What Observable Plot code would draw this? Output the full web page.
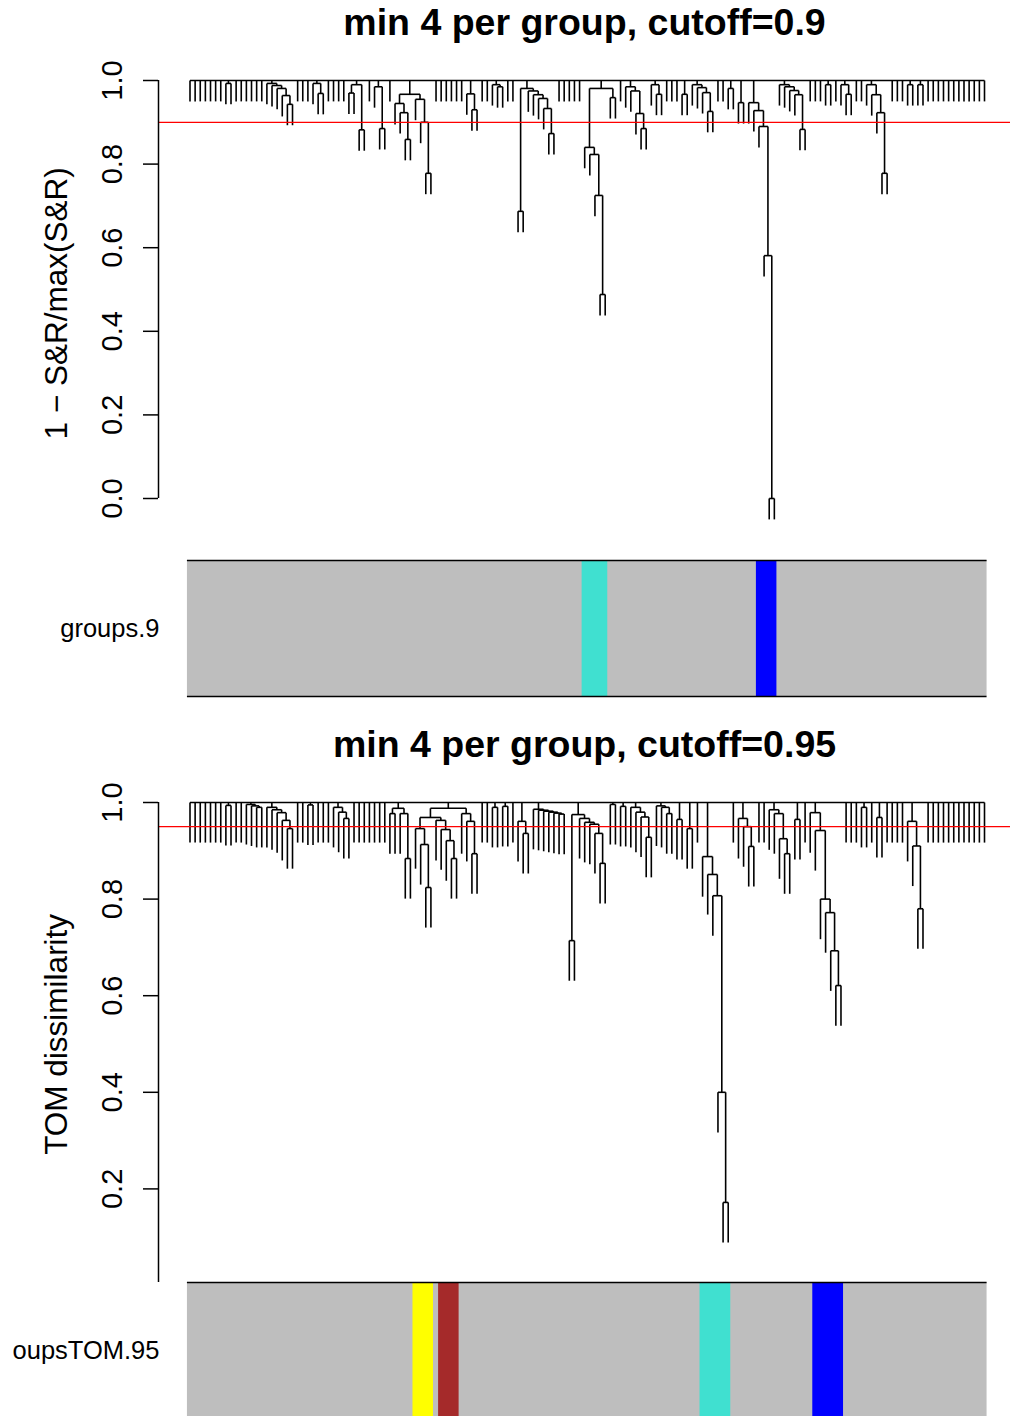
<!DOCTYPE html>
<html><head><meta charset="utf-8">
<script src="https://cdn.jsdelivr.net/npm/d3@7"></script>
<script src="https://cdn.jsdelivr.net/npm/@observablehq/plot@0.6"></script>
<style>
html,body{margin:0;padding:0;background:#fff;}
#page{position:relative;width:1010px;height:1416px;overflow:hidden;background:#fff;}
#page svg{position:absolute;}
</style></head><body><div id="page"></div>
<script>
// ---------------- data ----------------
const titles = ["min 4 per group, cutoff=0.9", "min 4 per group, cutoff=0.95"];
const yLabels = ["1 \u2212 S&R/max(S&R)", "TOM dissimilarity"];
const cutoffs = [0.9, 0.95];
const topTicks = [0, 0.2, 0.4, 0.6, 0.8, 1.0];
const bottomTicks = [0.2, 0.4, 0.6, 0.8, 1.0];
const barLabels = ["groups.9", "groupsTOM.95"];
const greyColor = "#BEBEBE";
// colour bands: [first leaf, last leaf, colour]
const topGroups = [[78, 82, "turquoise"], [112, 115, "blue"]];
const bottomGroups = [[45, 48, "yellow"], [50, 53, "brown"], [101, 106, "turquoise"], [123, 128, "blue"]];
// dendrograms: "o" = leaf, "( ... )hhh" = merge at height hhh/1000
const topTree = [
 "o o o o o o o (oo)993 o o o o o o",
 "(o (o (o (o (oo)943)964)981)988)993",
 "o o o (o (oo)969)993",
 "o o",
 "o o ((oo)970 (oo)882)990 o (o (oo)885)985",
 "o",
 "((o (o (oo)859)923)945 (o (o (oo)778)900)955)967",
 "o o o o o o",
 "(o (oo)930)968",
 "o o (o (oo)985)990 o o",
 "((oo)687 (o (o (o (o (oo)873)933)957)966)975)981",
 "o o o o o",
 "((o (o (o (oo)488)725)823)840 (oo)959)981",
 "o",
 "(o (o (o (oo)885)921)975)985",
 "(o (oo)967)990",
 "o o o",
 "(oo)967",
 "(o (o (o (oo)926)971)983)990",
 "o o",
 "(oo)981",
 "(oo)947",
 "(o (o (o (o (oo)000)581)890)928)947",
 "(o (o (o (o (oo)883)966)976)985)990",
 "o o o",
 "(oo)990",
 "o",
 "(o (oo)967)990",
 "o o",
 "(o (o (o (oo)778)923)966)990",
 "o o o",
 "(oo)990",
 "(oo)990",
 "o o o o o o o o o o o o"
];
const bottomTree = [
 "o o o o o o o (oo)994",
 "o o (o (o (oo)990)993)996",
 "(o (o (o (o (oo)946)963)979)985)990",
 "o o (oo)995 o o o",
 "(o (o (oo)967)980)990",
 "o o o o o o o",
 "((oo)977 (o (oo)884)977)988",
 "(((o (o (oo)824)913)946 (o (o (o (oo)884)921)944)963)969 (o (o (oo)894)961)977)988",
 "o o (oo)990 (oo)992 o",
 "(o (oo)936)961",
 "(o (o (o (o (o (oo)976)978)980)982)984)986",
 "((oo)714 (o (o (o (o (oo)874)936)955)959)967)975",
 "(oo)996 (oo)992",
 "(o (o (o (oo)928)970)980)990",
 "(o (o (oo)977)990)993",
 "(oo)965 (oo)946 o",
 "(o (o (o (o (oo)172)400)807)851)888",
 "o (o (o (oo)909)950)967",
 "o o (o (o (o (oo)894)925)977)985",
 "(oo)965",
 "o (o (o (o (o (o (oo)621)693)772)800)942)979",
 "o o o (oo)990 o (oo)969 o o o o",
 "(o (o (oo)780)910)961",
 "o o o o o o o o o o o o"
];

// ---------------- layout constants ----------------
const FONT = '"Liberation Sans", Arial, Helvetica, sans-serif';
const W = 1010, AXIS_PX = 158, FIRST_PX = 189.5, LAST_PX = 984;

function parseTree(chunks) {
  const s = ("(" + chunks.join("") + ")1000").replace(/\s+/g, "");
  let i = 0;
  function node() {
    if (s[i] === "o") { i++; return {leaf: true}; }
    if (s[i] === "(") {
      i++;
      const children = [];
      while (s[i] !== ")") children.push(node());
      i++;
      let j = i; while (j < s.length && /\d/.test(s[j])) j++;
      const h = parseInt(s.slice(i, j), 10) / 1000; i = j;
      return {leaf: false, h, children};
    }
    throw new Error("bad tree at " + i);
  }
  return node();
}
function layout(root, hang) {
  let k = 0; const segs = [];
  (function pos(nd) {
    if (nd.leaf) { nd.x = ++k; return; }
    nd.children.forEach(pos);
    nd.x = (nd.children[0].x + nd.children[nd.children.length - 1].x) / 2;
  })(root);
  (function draw(nd) {
    if (nd.leaf) return;
    const c = nd.children;
    segs.push({x1: c[0].x, x2: c[c.length - 1].x, y1: nd.h, y2: nd.h});
    for (const ch of c) {
      segs.push({x1: ch.x, x2: ch.x, y1: nd.h, y2: ch.leaf ? nd.h - hang : ch.h});
      draw(ch);
    }
  })(root);
  return {segs, n: k};
}

function dendroPlot(cfg) {
  const {segs, n} = layout(parseTree(cfg.tree), cfg.hang);
  const step = (LAST_PX - FIRST_PX) / (n - 1);
  const axisX = 1 - (FIRST_PX - AXIS_PX) / step;
  const svg = Plot.plot({
    width: W, height: cfg.height,
    marginLeft: AXIS_PX, marginRight: 0, marginTop: cfg.y1px, marginBottom: 0,
    style: {background: "transparent", fontFamily: FONT, overflow: "hidden", color: "black"},
    x: {domain: [1, n], range: [FIRST_PX, LAST_PX], axis: null},
    y: {domain: [0, 1], range: [cfg.y0px, cfg.y1px], axis: null},
    marks: [
      Plot.link(segs, {x1: "x1", y1: "y1", x2: "x2", y2: "y2", stroke: "black", strokeWidth: 1.6}),
      Plot.ruleY([cfg.cutoff], {stroke: "#FF0000", strokeWidth: 1.2}),
      Plot.ruleX([axisX], {y1: 0, y2: 1, stroke: "black", strokeWidth: 1.5}),
      Plot.axisY(cfg.ticks, {anchor: "left", tickSize: 15, tickFormat: () => "", strokeWidth: 1.5, label: null}),
      Plot.text(cfg.ticks, {y: d => d, text: d => d.toFixed(1), frameAnchor: "left", dx: -46, rotate: -90,
        fontSize: 29, lineAnchor: "middle", textAnchor: "middle", fill: "black"}),
      Plot.text([cfg.ylab], {y: [cfg.ylabAt], frameAnchor: "left", dx: -102, rotate: -90,
        fontSize: 31.5, lineAnchor: "middle", textAnchor: "middle", fill: "black"}),
      Plot.text([cfg.title], {frameAnchor: "top", dy: -46, fontSize: 37.5, fontWeight: "bold",
        lineAnchor: "bottom", fill: "black"})
    ]
  });
  svg.style.top = cfg.top + "px";
  svg.style.left = "0px";
  return {svg, n};
}

function barPlot(cfg, n) {
  const off = cfg.left;  // the figure region of the colour row starts at this page x
  const bands = cfg.groups.map(([a, b, c]) => ({x1: a - 0.5, x2: b + 0.5, fill: c}));
  const svg = Plot.plot({
    width: W - off, height: cfg.height,
    marginLeft: AXIS_PX - off, marginRight: 0, marginTop: 0, marginBottom: 0,
    style: {background: "transparent", fontFamily: FONT, overflow: "hidden", color: "black"},
    x: {domain: [1, n], range: [FIRST_PX - off, LAST_PX - off], axis: null},
    y: {domain: [0, 1], range: [cfg.y0px, cfg.y1px], axis: null},
    color: {type: "identity"},
    marks: [
      Plot.rect([{x1: 0.5, x2: n + 0.5}], {x1: "x1", x2: "x2", y1: 0, y2: 1, fill: greyColor}),
      Plot.rect(bands, {x1: "x1", x2: "x2", y1: 0, y2: 1, fill: "fill"}),
      Plot.ruleY([0, 1], {x1: 0.5, x2: n + 0.5, stroke: "black", strokeWidth: 1.5}),
      Plot.text([cfg.label], {y: [0.5], frameAnchor: "left", textAnchor: "end", dx: 1,
        fontSize: 25.5, lineAnchor: "middle", fill: "black"})
    ]
  });
  svg.style.top = cfg.top + "px";
  svg.style.left = off + "px";
  return svg;
}

const page = document.getElementById("page");
const d1 = dendroPlot({tree: topTree, hang: 0.05, cutoff: cutoffs[0], ticks: topTicks, title: titles[0],
  ylab: yLabels[0], ylabAt: 0.467, top: 0, height: 540, y0px: 498, y1px: 80});
const b1 = barPlot({groups: topGroups, label: barLabels[0], left: 0, top: 550, height: 150, y0px: 146, y1px: 10}, d1.n);
const d2 = dendroPlot({tree: bottomTree, hang: 0.083, cutoff: cutoffs[1], ticks: bottomTicks, title: titles[1],
  ylab: yLabels[1], ylabAt: 0.52, top: 700, height: 582, y0px: 585, y1px: 102});
const b2 = barPlot({groups: bottomGroups, label: barLabels[1], left: 13, top: 1275, height: 141, y0px: 143, y1px: 7}, d2.n);
page.append(d1.svg, b1, d2.svg, b2);
</script></body></html>
